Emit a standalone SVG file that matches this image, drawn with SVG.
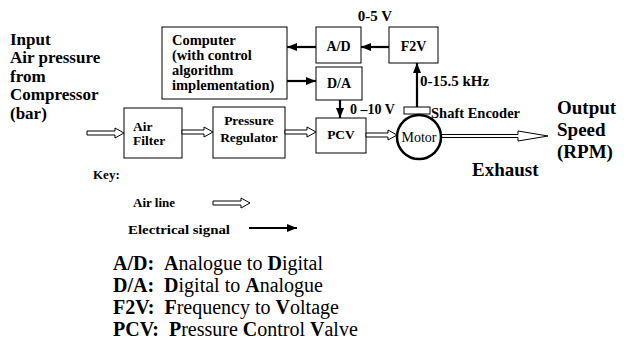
<svg xmlns="http://www.w3.org/2000/svg" width="624" height="341" viewBox="0 0 624 341" font-family="'Liberation Serif', 'Times New Roman', Times, 'DejaVu Serif', serif">
<style>
text{font-family:"Liberation Serif","Times New Roman",Times,"DejaVu Serif",serif;fill:#000}
.b{font-weight:bold}
.box{fill:#fff;stroke:#000;stroke-width:1}
.air{fill:#fff;stroke:#000;stroke-width:1}
.el{stroke:#000;stroke-width:2.2;fill:none;marker-end:url(#ah)}
</style>
<defs>
<marker id="ah" markerUnits="userSpaceOnUse" markerWidth="10" markerHeight="10" viewBox="0 0 10 10" refX="10" refY="5" orient="auto">
<path d="M0,1 L10,5 L0,9 Z" fill="#000"/>
</marker>
</defs>
<rect width="624" height="341" fill="#fff"/>

<g id="input-label" font-size="17">
<text x="10" y="45" class="b">Input</text>
<text x="10" y="63" class="b">Air pressure</text>
<text x="10" y="82" class="b">from</text>
<text x="10" y="100" class="b">Compressor</text>
<text x="10" y="119" class="b">(bar)</text>
</g>

<g id="computer">
<rect class="box" x="162" y="27" width="125" height="72"/>
<text x="172" y="45" class="b" font-size="14.5">Computer</text>
<text x="172" y="60" class="b" font-size="14.5">(with control</text>
<text x="172" y="75" class="b" font-size="14.5">algorithm</text>
<text x="172" y="90" class="b" font-size="14.5">implementation)</text>
</g>

<g id="ad">
<rect class="box" x="316" y="27" width="45" height="36"/>
<text x="338.5" y="51" class="b" font-size="14" text-anchor="middle">A/D</text>
</g>
<g id="f2v">
<rect class="box" x="389" y="27" width="49" height="36"/>
<text x="413.5" y="51" class="b" font-size="14" text-anchor="middle">F2V</text>
</g>
<g id="da">
<rect class="box" x="316" y="67" width="46" height="33"/>
<text x="339" y="88" class="b" font-size="14" text-anchor="middle">D/A</text>
</g>
<g id="air-filter">
<rect class="box" x="124" y="108" width="58" height="50"/>
<text x="133" y="131" class="b" font-size="13.5">Air</text>
<text x="133" y="145" class="b" font-size="13.5">Filter</text>
</g>
<g id="pressure-regulator">
<rect class="box" x="213" y="107" width="72" height="51"/>
<text x="249" y="125" class="b" font-size="13.5" text-anchor="middle">Pressure</text>
<text x="249" y="142" class="b" font-size="13.5" text-anchor="middle">Regulator</text>
</g>
<g id="pcv">
<rect class="box" x="316" y="118" width="50" height="35"/>
<text x="341" y="139" class="b" font-size="13.5" text-anchor="middle">PCV</text>
</g>
<g id="shaft-encoder">
<rect class="box" x="404" y="107" width="26" height="7"/>
<text x="431" y="118" class="b" font-size="14.5">Shaft Encoder</text>
</g>

<g id="connectors">
<path class="air" d="M87,131 L115,131 L115,128 L124,133 L115,138 L115,135 L87,135 Z"/>
<path class="air" d="M182,130 L204,130 L204,127 L213,132 L204,137 L204,134 L182,134 Z"/>
<path class="air" d="M285,130 L307,130 L307,127 L316,132 L307,137 L307,134 L285,134 Z"/>
<path class="air" d="M366,133 L388,133 L388,130 L397,135 L388,140 L388,137 L366,137 Z"/>
<path class="air" d="M441,134.5 L518,134.5 L518,131 L548,136 L518,141 L518,137.5 L441,137.5 Z"/>
<line class="el" x1="316" y1="47" x2="287" y2="47"/>
<line class="el" x1="389" y1="47" x2="361" y2="47"/>
<line class="el" x1="287" y1="81" x2="316" y2="81"/>
<line class="el" x1="340" y1="100" x2="340" y2="118"/>
<line class="el" x1="417" y1="107" x2="417" y2="63"/>
</g>

<g id="motor">
<circle cx="419" cy="137" r="22" fill="#fff" stroke="#000" stroke-width="2.5"/>
<text x="419" y="142" font-size="14" text-anchor="middle">Motor</text>
</g>

<g id="labels">
<text x="375" y="21" class="b" font-size="15" text-anchor="middle">0-5 V</text>
<text x="420" y="86" class="b" font-size="15">0-15.5 kHz</text>
<text x="350" y="114" class="b" font-size="14">0 –10 V</text>
<text x="557" y="114" class="b" font-size="19">Output</text>
<text x="557" y="136" class="b" font-size="19">Speed</text>
<text x="557" y="158" class="b" font-size="19">(RPM)</text>
<text x="472" y="176" class="b" font-size="19">Exhaust</text>
</g>

<g id="key">
<text x="93" y="179" class="b" font-size="13">Key:</text>
<text x="133" y="207" class="b" font-size="13">Air line</text>
<path class="air" d="M213,201 L241,201 L241,198 L250,203 L241,208 L241,205 L213,205 Z"/>
<text x="128" y="234" class="b" font-size="13" textLength="102" lengthAdjust="spacingAndGlyphs">Electrical signal</text>
<line class="el" x1="249" y1="228" x2="297" y2="228" stroke-width="2.6"/>
</g>

<g id="abbreviations" font-size="20">
<text x="113" y="270" xml:space="preserve"><tspan class="b">A/D:</tspan>  <tspan class="b">A</tspan>nalogue to <tspan class="b">D</tspan>igital</text>
<text x="113" y="292" xml:space="preserve"><tspan class="b">D/A:</tspan>  <tspan class="b">D</tspan>igital to <tspan class="b">A</tspan>nalogue</text>
<text x="113" y="314" xml:space="preserve"><tspan class="b">F2V:</tspan>  <tspan class="b">F</tspan>requency to <tspan class="b">V</tspan>oltage</text>
<text x="113" y="336" xml:space="preserve"><tspan class="b">PCV:</tspan>  <tspan class="b">P</tspan>ressure <tspan class="b">C</tspan>ontrol <tspan class="b">V</tspan>alve</text>
</g>
</svg>
